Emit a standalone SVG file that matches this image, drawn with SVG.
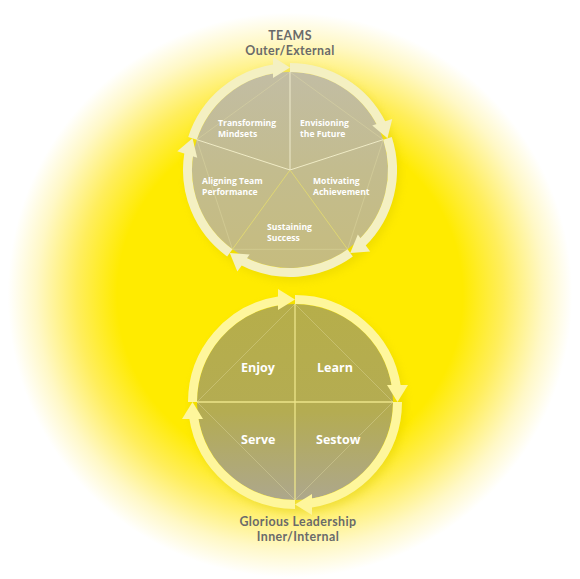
<svg xmlns="http://www.w3.org/2000/svg" width="580" height="579" viewBox="0 0 580 579">
  <defs>
    <radialGradient id="bg" gradientUnits="userSpaceOnUse" cx="290" cy="295" r="288">
      <stop offset="0" stop-color="#FFEB00"/>
      <stop offset="0.6" stop-color="#FFEB00"/>
      <stop offset="0.74" stop-color="#FFEE5C"/>
      <stop offset="0.88" stop-color="#FFF8C6"/>
      <stop offset="0.98" stop-color="#FFFFFF"/>
    </radialGradient>
    <linearGradient id="topFill" gradientUnits="userSpaceOnUse" x1="0" y1="70" x2="0" y2="270">
      <stop offset="0" stop-color="#C2BDA4"/>
      <stop offset="0.5" stop-color="#C3BC8E"/>
      <stop offset="1" stop-color="#C6BC7E"/>
    </linearGradient>
    <linearGradient id="botFill" gradientUnits="userSpaceOnUse" x1="0" y1="304" x2="0" y2="500">
      <stop offset="0" stop-color="#B6AE4A"/>
      <stop offset="0.55" stop-color="#B4AC52"/>
      <stop offset="1" stop-color="#ADA78C"/>
    </linearGradient>
    <filter id="shadow" x="-20%" y="-20%" width="140%" height="140%">
      <feGaussianBlur stdDeviation="4"/>
    </filter>
    <polygon id="headT" points="0,-102.5 -17,-113 -17,-92"/>
    <style>
      .ringT { fill: none; stroke: #F4F0C2; stroke-width: 9; }
      .headT { fill: #F4F0C2; }
      .ringB { fill: none; stroke: #FEF69C; stroke-width: 9; }
      .headB { fill: #FEF69C; }
      .secT { fill: url(#topFill); }
      .secB { fill: url(#botFill); }
      .spokeT { stroke: #EEEACB; stroke-width: 1; }
      .spokeY { stroke: #DDD57A; stroke-width: 1; }
      .spokeB { stroke: #EDE58A; stroke-width: 1.3; }
      .chord { stroke: #E6E0A8; stroke-width: 0.8; opacity: 0.45; fill: none; }
      .lblS { font-family: "Open Sans", "DejaVu Sans", sans-serif; font-weight: bold; font-size: 8.6px; fill: #FFFFFF; }
      .lblL { font-family: "Open Sans", "DejaVu Sans", sans-serif; font-weight: bold; font-size: 12.5px; fill: #FFFFFF; }
      .title { font-family: Lato, "Open Sans", sans-serif; font-weight: bold; font-size: 12.4px; letter-spacing: 0.4px; fill: #6A6A6A; text-anchor: middle; }
    </style>
  </defs>

  <rect x="0" y="0" width="580" height="579" fill="url(#bg)"/>

  <!-- soft shadows -->
  <circle cx="293" cy="174" r="107" fill="#D6C400" opacity="0.35" filter="url(#shadow)"/>
  <circle cx="298" cy="406" r="107" fill="#D6C400" opacity="0.35" filter="url(#shadow)"/>

  <!-- TOP CIRCLE -->
  <g id="envisioning">
    <path class="secT" d="M290,170 L290,72 A98,98 0 0 1 383.2,139.7 Z"/>
    <line class="chord" x1="290" y1="72" x2="383.2" y2="139.7"/>
    <text class="lblS" x="300" y="126">Envisioning</text>
    <text class="lblS" x="300" y="137">the Future</text>
  </g>
  <g id="motivating">
    <path class="secT" d="M290,170 L383.2,139.7 A98,98 0 0 1 347.6,249.3 Z"/>
    <line class="chord" x1="383.2" y1="139.7" x2="347.6" y2="249.3"/>
    <text class="lblS" x="313" y="184">Motivating</text>
    <text class="lblS" x="313" y="195">Achievement</text>
  </g>
  <g id="sustaining">
    <path class="secT" d="M290,170 L347.6,249.3 A98,98 0 0 1 232.4,249.3 Z"/>
    <line class="chord" x1="347.6" y1="249.3" x2="232.4" y2="249.3"/>
    <text class="lblS" x="267" y="230">Sustaining</text>
    <text class="lblS" x="267" y="241">Success</text>
  </g>
  <g id="aligning">
    <path class="secT" d="M290,170 L232.4,249.3 A98,98 0 0 1 196.8,139.7 Z"/>
    <line class="chord" x1="232.4" y1="249.3" x2="196.8" y2="139.7"/>
    <text class="lblS" x="202" y="184">Aligning Team</text>
    <text class="lblS" x="202" y="195">Performance</text>
  </g>
  <g id="transforming">
    <path class="secT" d="M290,170 L196.8,139.7 A98,98 0 0 1 290,72 Z"/>
    <line class="chord" x1="196.8" y1="139.7" x2="290" y2="72"/>
    <text class="lblS" x="218" y="126">Transforming</text>
    <text class="lblS" x="218" y="137">Mindsets</text>
  </g>
  <g id="top-spokes">
    <line class="spokeT" x1="290" y1="170" x2="290" y2="72"/>
    <line class="spokeT" x1="290" y1="170" x2="383.2" y2="139.7"/>
    <line class="spokeY" x1="290" y1="170" x2="347.6" y2="249.3"/>
    <line class="spokeY" x1="290" y1="170" x2="232.4" y2="249.3"/>
    <line class="spokeT" x1="290" y1="170" x2="196.8" y2="139.7"/>
  </g>

  <!-- BOTTOM CIRCLE -->
  <g id="learn">
    <path class="secB" d="M295,402 L295,304 A98,98 0 0 1 393,402 Z"/>
    <line class="chord" x1="295" y1="304" x2="393" y2="402"/>
    <text class="lblL" x="317" y="372">Learn</text>
  </g>
  <g id="sestow">
    <path class="secB" d="M295,402 L393,402 A98,98 0 0 1 295,500 Z"/>
    <line class="chord" x1="393" y1="402" x2="295" y2="500"/>
    <text class="lblL" x="316" y="444">Sestow</text>
  </g>
  <g id="serve">
    <path class="secB" d="M295,402 L295,500 A98,98 0 0 1 197,402 Z"/>
    <line class="chord" x1="295" y1="500" x2="197" y2="402"/>
    <text class="lblL" x="241" y="444">Serve</text>
  </g>
  <g id="enjoy">
    <path class="secB" d="M295,402 L197,402 A98,98 0 0 1 295,304 Z"/>
    <line class="chord" x1="197" y1="402" x2="295" y2="304"/>
    <text class="lblL" x="241" y="372">Enjoy</text>
  </g>
  <g id="bottom-spokes">
    <line class="spokeB" x1="295" y1="304" x2="295" y2="500"/>
    <line class="spokeB" x1="197" y1="402" x2="393" y2="402"/>
  </g>

  <!-- CONNECTORS: circular arrows -->
  <g id="connectors">
    <path class="ringT" d="M290,67.5 A102.5,102.5 0 0 1 381.7,124.3"/>
    <use href="#headT" class="headT" transform="translate(290 170) rotate(72)"/>
    <path class="ringT" d="M387.5,138.3 A102.5,102.5 0 0 1 361.8,243.1"/>
    <use href="#headT" class="headT" transform="translate(290 170) rotate(144)"/>
    <path class="ringT" d="M350.2,252.9 A102.5,102.5 0 0 1 242.7,260.9"/>
    <use href="#headT" class="headT" transform="translate(290 170) rotate(216)"/>
    <path class="ringT" d="M229.8,252.9 A102.5,102.5 0 0 1 188.9,153.1"/>
    <use href="#headT" class="headT" transform="translate(290 170) rotate(288)"/>
    <path class="ringT" d="M192.5,138.3 A102.5,102.5 0 0 1 274.85,68.6"/>
    <use href="#headT" class="headT" transform="translate(290 170)"/>

    <path class="ringB" d="M295,299.5 A102.5,102.5 0 0 1 396.4,386.85"/>
    <use href="#headT" class="headB" transform="translate(295 402) rotate(90)"/>
    <path class="ringB" d="M397.5,402 A102.5,102.5 0 0 1 310.15,503.4"/>
    <use href="#headT" class="headB" transform="translate(295 402) rotate(180)"/>
    <path class="ringB" d="M295,504.5 A102.5,102.5 0 0 1 193.6,417.15"/>
    <use href="#headT" class="headB" transform="translate(295 402) rotate(270)"/>
    <path class="ringB" d="M192.5,402 A102.5,102.5 0 0 1 279.85,300.6"/>
    <use href="#headT" class="headB" transform="translate(295 402)"/>
  </g>

  <!-- Titles -->
  <g id="title-top">
    <text class="title" x="290" y="40">TEAMS</text>
    <text class="title" x="290" y="55">Outer/External</text>
  </g>
  <g id="title-bottom">
    <text class="title" x="298" y="526">Glorious Leadership</text>
    <text class="title" x="298" y="541">Inner/Internal</text>
  </g>
</svg>
